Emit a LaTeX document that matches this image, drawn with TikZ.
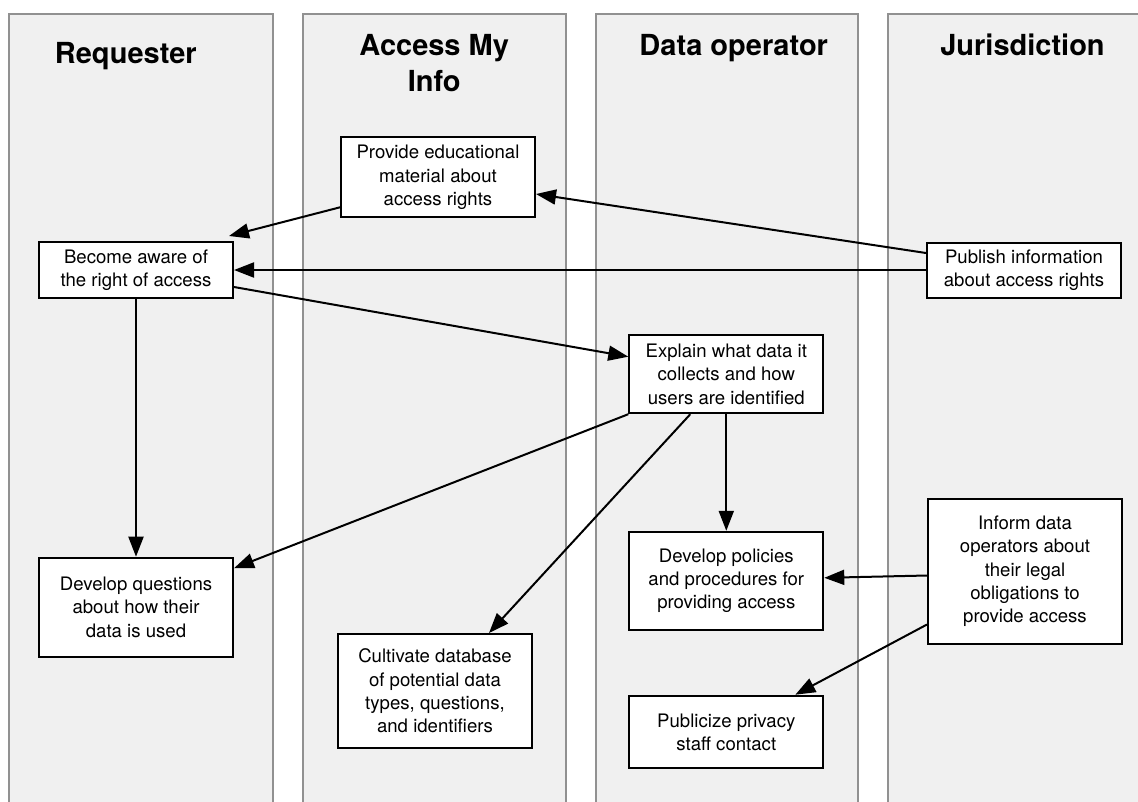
\documentclass[tikz,border=0pt]{standalone}
\usepackage{fontspec}
\setmainfont{TeX Gyre Heros}
\usetikzlibrary{arrows.meta}
\definecolor{lanefill}{RGB}{240,240,240}
\definecolor{laneedge}{RGB}{145,145,145}
\begin{document}
\begin{tikzpicture}[x=1pt,y=-1pt,
  lane/.style={draw=laneedge, fill=lanefill, line width=2pt},
  lanetitle/.style={font=\fontsize{29}{36.7}\selectfont\bfseries, align=center, inner sep=0pt, anchor=base},
  task/.style={draw=black, fill=white, line width=2pt, minimum width=194pt, align=center,
               inner sep=0pt, font=\fontsize{18.6}{23.3}\selectfont},
  flow/.style={draw=black, line width=2pt, -{Triangle[length=20pt,width=15pt]}},
]
\useasboundingbox (0,0) rectangle (1138,801);

% swimlanes, running off the bottom of the page
\begin{scope}
  \clip (0,0) rectangle (1138,801);
  \draw[lane] (9.3,13.7) rectangle (273.3,830);
  \draw[lane] (302.7,13.7) rectangle (565.7,830);
  \draw[lane] (595.7,13.7) rectangle (858,830);
  \draw[lane] (888,13.7) rectangle (1152,830);
\end{scope}

% lane headings (base anchor sits on the last line)
\node[lanetitle] (t1) at (125.8,63.3) {Requester};
\node[lanetitle] (t2) at (434.2,91.7) {Access My\\Info};
\node[lanetitle] (t3) at (733.7,55) {Data operator};
\node[lanetitle] (t4) at (1022.5,55) {Jurisdiction};

% tasks
\node[task, minimum height=80pt]  (prov)      at (438,177.3)   {Provide educational\\material about\\access rights};
\node[task, minimum height=56pt]  (become)    at (136,270)     {Become aware of\\the right of access};
\node[task, minimum height=55pt]  (publish)   at (1024,270)    {Publish information\\about access rights};
\node[task, minimum height=78pt]  (explain)   at (726.3,374.2) {Explain what data it\\collects and how\\users are identified};
\node[task, minimum height=99pt]  (devq)      at (136,607.2)   {Develop questions\\about how their\\data is used};
\node[task, minimum height=114pt] (cult)      at (435,691)     {Cultivate database\\of potential data\\types, questions,\\and identifiers};
\node[task, minimum height=98pt]  (devp)      at (726.3,580.8) {Develop policies\\and procedures for\\providing access};
\node[task, minimum height=145pt] (inform)    at (1025,571.5)  {Inform data\\operators about\\their legal\\obligations to\\provide access};
\node[task, minimum height=72.6pt] (publicize) at (726.3,732)  {Publicize privacy\\staff contact};

% flows
\draw[flow] ([shift={(0,-17)}]publish.west) -- ([shift={(0,16.7)}]prov.east);
\draw[flow] (publish.west) -- (become.east);
\draw[flow] ([shift={(0,30)}]prov.west) -- ([shift={(-5,-5)}]become.north east);
\draw[flow] ([shift={(0,17)}]become.east) -- ([shift={(0,-17.5)}]explain.west);
\draw[flow] (become.south) -- (devq.north);
\draw[flow] (explain.south west) -- ([shift={(0,-39)}]devq.east);
\draw[flow] ([shift={(-36,0)}]explain.south) -- ([shift={(54,0)}]cult.north);
\draw[flow] (explain.south) -- (devp.north);
\draw[flow] ([shift={(0,4)}]inform.west) -- ([shift={(0,-3)}]devp.east);
\draw[flow] ([shift={(0,53)}]inform.west) -- ([shift={(69,0)}]publicize.north);
\end{tikzpicture}
\end{document}
